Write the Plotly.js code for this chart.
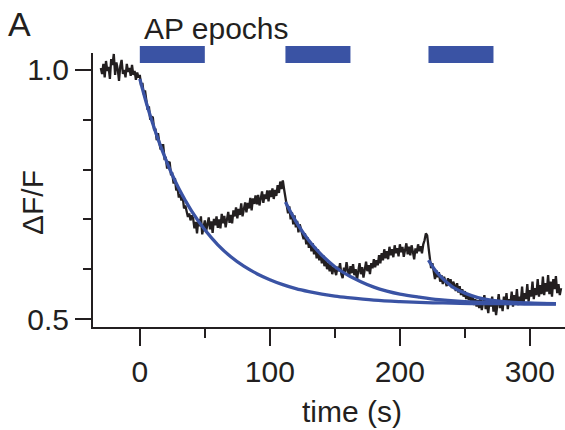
<!DOCTYPE html>
<html><head><meta charset="utf-8">
<script src="https://cdn.plot.ly/plotly-3.0.1.min.js"></script>
<style>html,body{margin:0;padding:0;background:#fff}#chart{width:565px;height:430px}</style>
</head><body><div id="chart"></div>
<script>
// Recorded trace: first sample time and sampling step (s)
const traceStart = -30;
const traceStep = 1;
const traceValues = [
  // -30 .. -1
  1.004,0.992,1.012,0.985,1.018,0.998,1.006,0.982,1.022,1.010,1.032,0.990,1.015,1.002,0.978,
  1.008,1.020,0.992,1.000,0.985,1.012,0.996,1.004,0.988,1.010,0.990,0.998,0.980,0.995,0.985,
  // 0 .. 40
  0.990,0.968,0.974,0.951,0.959,0.936,0.920,0.927,0.900,0.904,0.906,0.879,0.882,0.859,0.873,
  0.854,0.840,0.849,0.849,0.822,0.823,0.802,0.815,0.814,0.789,0.791,0.772,0.783,0.758,0.763,
  0.744,0.751,0.738,0.745,0.722,0.728,0.717,0.705,0.712,0.698,0.708,
  // 41 .. 110
  0.702,0.682,0.695,0.672,0.700,0.686,0.706,0.670,0.684,0.698,0.676,0.693,0.704,0.680,0.696,
  0.673,0.701,0.688,0.706,0.683,0.700,0.682,0.711,0.692,0.707,0.684,0.703,0.715,0.693,0.709,
  0.692,0.718,0.706,0.724,0.702,0.721,0.709,0.732,0.706,0.724,0.734,0.714,0.733,0.722,0.743,
  0.718,0.742,0.731,0.748,0.730,0.749,0.728,0.745,0.756,0.733,0.750,0.741,0.758,0.736,0.758,
  0.745,0.762,0.741,0.759,0.747,0.769,0.753,0.776,0.761,0.778,
  // 111 .. 150
  0.760,0.745,0.722,0.712,0.726,0.700,0.714,0.690,0.708,0.684,0.697,0.674,0.690,0.682,0.670,
  0.660,0.672,0.650,0.664,0.643,0.655,0.636,0.652,0.630,0.645,0.622,0.640,0.618,0.630,0.612,
  0.628,0.606,0.620,0.600,0.612,0.596,0.609,0.590,0.604,0.598,
  // 151 .. 221
  0.588,0.605,0.596,0.612,0.590,0.582,0.603,0.594,0.614,0.598,0.585,0.606,0.592,0.610,0.588,
  0.600,0.578,0.596,0.612,0.590,0.604,0.583,0.598,0.615,0.596,0.608,0.590,0.612,0.602,0.620,
  0.604,0.618,0.608,0.628,0.612,0.632,0.618,0.640,0.622,0.636,0.620,0.645,0.628,0.640,0.624,
  0.648,0.632,0.642,0.626,0.650,0.634,0.645,0.625,0.640,0.652,0.630,0.645,0.628,0.648,0.635,
  0.620,0.642,0.632,0.650,0.636,0.646,0.632,0.650,0.658,0.672,0.668,
  // 222 .. 259
  0.645,0.620,0.602,0.612,0.590,0.580,0.598,0.584,0.594,0.575,0.588,0.570,0.585,0.576,0.566,
  0.582,0.568,0.580,0.562,0.575,0.568,0.556,0.572,0.553,0.566,0.548,0.560,0.545,0.556,0.540,
  0.552,0.538,0.548,0.532,0.546,0.528,0.540,0.525,
  // 260 .. 324
  0.538,0.522,0.544,0.518,0.535,0.548,0.520,0.530,0.512,0.540,0.525,0.545,0.515,0.532,0.508,
  0.528,0.550,0.522,0.538,0.516,0.545,0.528,0.552,0.520,0.540,0.530,0.555,0.525,0.548,0.532,
  0.560,0.528,0.545,0.535,0.565,0.530,0.552,0.540,0.570,0.535,0.558,0.545,0.575,0.540,0.562,
  0.548,0.580,0.545,0.568,0.550,0.585,0.548,0.572,0.555,0.588,0.550,0.575,0.545,0.580,0.560,
  0.586,0.552,0.570,0.548,0.562
];

// Exponential fits
const fit1Time = [0,5,10,15,20,25,30,35,40,50,60,70,80,90,100,110,120,130,140,150,160,180,200,220,240,260,280,300,320];
const fit1Values = [0.982,0.934,0.892,0.854,0.820,0.789,0.762,0.738,0.716,0.679,0.649,0.625,0.606,0.591,0.579,0.569,0.561,0.555,0.550,0.546,0.543,0.538,0.535,0.533,0.532,0.531,0.531,0.530,0.530];
const fit2Time = [112,116,120,126,132,140,150,160,170,180,190,200,215,230,250,270,290,320];
const fit2Values = [0.735,0.715,0.696,0.672,0.651,0.628,0.605,0.588,0.575,0.564,0.556,0.550,0.544,0.539,0.535,0.533,0.532,0.531];
const fit3Time = [222,226,230,236,242,250,260,270,285,300,320];
const fit3Values = [0.618,0.602,0.589,0.574,0.562,0.552,0.543,0.538,0.534,0.532,0.531];

// AP stimulation epochs (s)
const epochStart = [0, 112, 222];
const epochEnd = [50, 162, 272];

const xTicks = [0, 100, 200, 300];
const xMinorTicks = [50, 150, 250];
const yTicks = [0.5, 1.0];
const yTickLabels = ['0.5', '1.0'];
const yMinorTicks = [0.6, 0.7, 0.8, 0.9];

const ink = '#231f20';
const blue = '#3a53a4';
const font = 'Liberation Sans, Arial, Helvetica, sans-serif';

const traces = [
  {type:'scatter', mode:'lines', x0:traceStart, dx:traceStep, y:traceValues,
   line:{color:ink, width:2.3}, hoverinfo:'skip'},
  {type:'scatter', mode:'lines', x:fit1Time, y:fit1Values, line:{color:blue, width:3.3, shape:'spline'}},
  {type:'scatter', mode:'lines', x:fit2Time, y:fit2Values, line:{color:blue, width:3.3, shape:'spline'}},
  {type:'scatter', mode:'lines', x:fit3Time, y:fit3Values, line:{color:blue, width:3.3, shape:'spline'}}
];

const shapes = epochStart.map((s, i) => ({
  type:'rect', xref:'x', yref:'paper', x0:s, x1:epochEnd[i], y0:0.9635, y1:1.0255,
  fillcolor:blue, line:{width:0}, layer:'above'
}));

const layout = {
  width:565, height:430,
  margin:{l:93, r:0, t:53, b:103},
  paper_bgcolor:'#fff', plot_bgcolor:'#fff',
  showlegend:false,
  font:{family:font, size:30, color:ink},
  xaxis:{range:[-36,327], showgrid:false, zeroline:false, showline:true, linecolor:ink, linewidth:2,
    ticks:'outside', ticklen:17, tickwidth:2, tickcolor:ink, tickvals:xTicks,
    tickfont:{size:30, color:ink, family:font},
    minor:{tickvals:xMinorTicks, ticks:'outside', ticklen:9, tickwidth:2, tickcolor:ink, showgrid:false}},
  yaxis:{range:[0.484,1.034], showgrid:false, zeroline:false, showline:true, linecolor:ink, linewidth:2,
    ticks:'outside', ticklen:16, tickwidth:2, tickcolor:ink, tickvals:yTicks, ticktext:yTickLabels,
    tickfont:{size:30, color:ink, family:font},
    minor:{tickvals:yMinorTicks, ticks:'outside', ticklen:8, tickwidth:2, tickcolor:ink, showgrid:false}},
  shapes:shapes,
  annotations:[
    {text:'A', xref:'paper', yref:'paper', x:-0.1557, y:1.1058, xanchor:'center', yanchor:'middle', showarrow:false, font:{size:34, color:ink, family:font}},
    {text:'AP epochs', xref:'paper', yref:'paper', x:0.1038, y:1.091, xanchor:'left', yanchor:'middle', showarrow:false, font:{size:30, color:ink, family:font}},
    {text:'time (s)', xref:'paper', yref:'paper', x:0.5487, y:-0.310, xanchor:'center', yanchor:'middle', showarrow:false, font:{size:30, color:ink, family:font}},
    {text:'ΔF/F', xref:'paper', yref:'paper', x:-0.1271, y:0.4526, xanchor:'center', yanchor:'middle', textangle:-90, showarrow:false, font:{size:30, color:ink, family:font}}
  ]
};

Plotly.newPlot('chart', traces, layout, {displayModeBar:false, staticPlot:true});
</script>
</body></html>
